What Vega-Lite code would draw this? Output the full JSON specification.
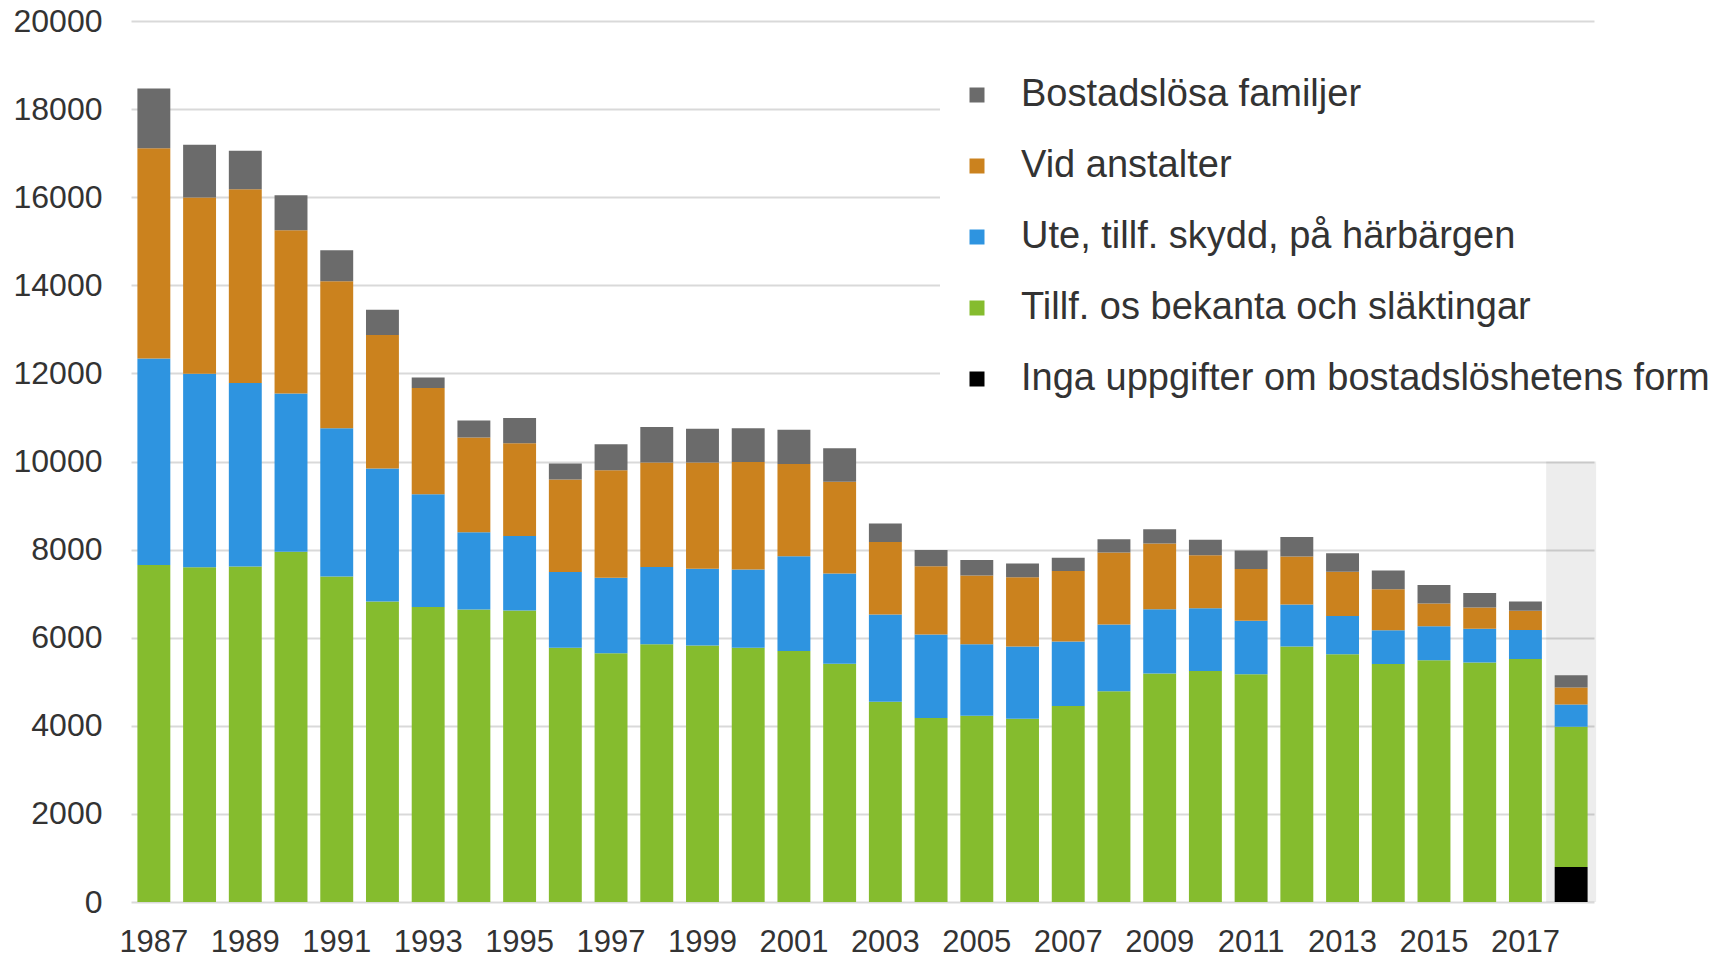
{
  "$schema": "https://vega.github.io/schema/vega-lite/v6.json",
  "width": 1463,
  "height": 881,
  "autosize": {"type": "none"},
  "padding": {"left": 131, "top": 21, "right": 141, "bottom": 56},
  "background": "white",
  "config": {
    "view": {"stroke": null},
    "font": "Liberation Sans",
    "axisX": {
      "title": null,
      "labelAngle": 0,
      "ticks": false,
      "domain": false,
      "grid": false,
      "labelFontSize": 31,
      "labelColor": "#333333",
      "labelPadding": 25
    },
    "axisY": {
      "title": null,
      "domain": false,
      "ticks": false,
      "labelFontSize": 32,
      "labelColor": "#333333",
      "labelPadding": 29,
      "gridColor": "#d9d9d9",
      "gridWidth": 2
    },
    "legend": {
      "orient": "none",
      "legendX": 809,
      "legendY": 37,
      "fillColor": "white",
      "padding": 18,
      "symbolType": "square",
      "symbolSize": 225,
      "symbolStrokeWidth": 0,
      "labelFontSize": 38,
      "labelColor": "#333333",
      "labelOffset": 25,
      "rowPadding": 33,
      "labelLimit": 1000
    }
  },
  "layer": [
    {
      "data": {"values": [{"year": 2018, "antal": 10000}]},
      "mark": {"type": "bar", "width": 50, "color": "#000000", "opacity": 0.07},
      "encoding": {
        "x": {
          "field": "year",
          "type": "ordinal",
          "scale": {"paddingInner": 0.28, "paddingOuter": 0.14},
          "axis": {
            "title": null,
            "values": [1987,1989,1991,1993,1995,1997,1999,2001,2003,2005,2007,2009,2011,2013,2015,2017]
          }
        },
        "y": {
          "field": "antal",
          "type": "quantitative",
          "scale": {"domain": [0, 20000], "nice": false},
          "axis": {
            "title": null,
            "values": [0,2000,4000,6000,8000,10000,12000,14000,16000,18000,20000],
            "format": "d"
          }
        }
      }
    },
    {
      "data": {"values": [
        {"year":1987,"kategori":"Tillf. os bekanta och släktingar","antal":7652},
        {"year":1987,"kategori":"Ute, tillf. skydd, på härbärgen","antal":4689},
        {"year":1987,"kategori":"Vid anstalter","antal":4773},
        {"year":1987,"kategori":"Bostadslösa familjer","antal":1356},
        {"year":1988,"kategori":"Tillf. os bekanta och släktingar","antal":7599},
        {"year":1988,"kategori":"Ute, tillf. skydd, på härbärgen","antal":4393},
        {"year":1988,"kategori":"Vid anstalter","antal":4000},
        {"year":1988,"kategori":"Bostadslösa familjer","antal":1197},
        {"year":1989,"kategori":"Tillf. os bekanta och släktingar","antal":7614},
        {"year":1989,"kategori":"Ute, tillf. skydd, på härbärgen","antal":4166},
        {"year":1989,"kategori":"Vid anstalter","antal":4402},
        {"year":1989,"kategori":"Bostadslösa familjer","antal":871},
        {"year":1990,"kategori":"Tillf. os bekanta och släktingar","antal":7954},
        {"year":1990,"kategori":"Ute, tillf. skydd, på härbärgen","antal":3591},
        {"year":1990,"kategori":"Vid anstalter","antal":3705},
        {"year":1990,"kategori":"Bostadslösa familjer","antal":795},
        {"year":1991,"kategori":"Tillf. os bekanta och släktingar","antal":7387},
        {"year":1991,"kategori":"Ute, tillf. skydd, på härbärgen","antal":3370},
        {"year":1991,"kategori":"Vid anstalter","antal":3334},
        {"year":1991,"kategori":"Bostadslösa familjer","antal":704},
        {"year":1992,"kategori":"Tillf. os bekanta och släktingar","antal":6820},
        {"year":1992,"kategori":"Ute, tillf. skydd, på härbärgen","antal":3021},
        {"year":1992,"kategori":"Vid anstalter","antal":3030},
        {"year":1992,"kategori":"Bostadslösa familjer","antal":576},
        {"year":1993,"kategori":"Tillf. os bekanta och släktingar","antal":6699},
        {"year":1993,"kategori":"Ute, tillf. skydd, på härbärgen","antal":2557},
        {"year":1993,"kategori":"Vid anstalter","antal":2410},
        {"year":1993,"kategori":"Bostadslösa familjer","antal":243},
        {"year":1994,"kategori":"Tillf. os bekanta och släktingar","antal":6639},
        {"year":1994,"kategori":"Ute, tillf. skydd, på härbärgen","antal":1755},
        {"year":1994,"kategori":"Vid anstalter","antal":2151},
        {"year":1994,"kategori":"Bostadslösa familjer","antal":387},
        {"year":1995,"kategori":"Tillf. os bekanta och släktingar","antal":6616},
        {"year":1995,"kategori":"Ute, tillf. skydd, på härbärgen","antal":1695},
        {"year":1995,"kategori":"Vid anstalter","antal":2105},
        {"year":1995,"kategori":"Bostadslösa familjer","antal":569},
        {"year":1996,"kategori":"Tillf. os bekanta och släktingar","antal":5770},
        {"year":1996,"kategori":"Ute, tillf. skydd, på härbärgen","antal":1720},
        {"year":1996,"kategori":"Vid anstalter","antal":2100},
        {"year":1996,"kategori":"Bostadslösa familjer","antal":365},
        {"year":1997,"kategori":"Tillf. os bekanta och släktingar","antal":5645},
        {"year":1997,"kategori":"Ute, tillf. skydd, på härbärgen","antal":1715},
        {"year":1997,"kategori":"Vid anstalter","antal":2439},
        {"year":1997,"kategori":"Bostadslösa familjer","antal":594},
        {"year":1998,"kategori":"Tillf. os bekanta och släktingar","antal":5849},
        {"year":1998,"kategori":"Ute, tillf. skydd, på härbärgen","antal":1758},
        {"year":1998,"kategori":"Vid anstalter","antal":2368},
        {"year":1998,"kategori":"Bostadslösa familjer","antal":811},
        {"year":1999,"kategori":"Tillf. os bekanta och släktingar","antal":5824},
        {"year":1999,"kategori":"Ute, tillf. skydd, på härbärgen","antal":1741},
        {"year":1999,"kategori":"Vid anstalter","antal":2410},
        {"year":1999,"kategori":"Bostadslösa familjer","antal":770},
        {"year":2000,"kategori":"Tillf. os bekanta och släktingar","antal":5774},
        {"year":2000,"kategori":"Ute, tillf. skydd, på härbärgen","antal":1774},
        {"year":2000,"kategori":"Vid anstalter","antal":2443},
        {"year":2000,"kategori":"Bostadslösa familjer","antal":762},
        {"year":2001,"kategori":"Tillf. os bekanta och släktingar","antal":5699},
        {"year":2001,"kategori":"Ute, tillf. skydd, på härbärgen","antal":2150},
        {"year":2001,"kategori":"Vid anstalter","antal":2092},
        {"year":2001,"kategori":"Bostadslösa familjer","antal":778},
        {"year":2002,"kategori":"Tillf. os bekanta och släktingar","antal":5406},
        {"year":2002,"kategori":"Ute, tillf. skydd, på härbärgen","antal":2050},
        {"year":2002,"kategori":"Vid anstalter","antal":2084},
        {"year":2002,"kategori":"Bostadslösa familjer","antal":761},
        {"year":2003,"kategori":"Tillf. os bekanta och släktingar","antal":4544},
        {"year":2003,"kategori":"Ute, tillf. skydd, på härbärgen","antal":1983},
        {"year":2003,"kategori":"Vid anstalter","antal":1648},
        {"year":2003,"kategori":"Bostadslösa familjer","antal":419},
        {"year":2004,"kategori":"Tillf. os bekanta och släktingar","antal":4176},
        {"year":2004,"kategori":"Ute, tillf. skydd, på härbärgen","antal":1899},
        {"year":2004,"kategori":"Vid anstalter","antal":1548},
        {"year":2004,"kategori":"Bostadslösa familjer","antal":368},
        {"year":2005,"kategori":"Tillf. os bekanta och släktingar","antal":4226},
        {"year":2005,"kategori":"Ute, tillf. skydd, på härbärgen","antal":1623},
        {"year":2005,"kategori":"Vid anstalter","antal":1565},
        {"year":2005,"kategori":"Bostadslösa familjer","antal":351},
        {"year":2006,"kategori":"Tillf. os bekanta och släktingar","antal":4159},
        {"year":2006,"kategori":"Ute, tillf. skydd, på härbärgen","antal":1640},
        {"year":2006,"kategori":"Vid anstalter","antal":1573},
        {"year":2006,"kategori":"Bostadslösa familjer","antal":310},
        {"year":2007,"kategori":"Tillf. os bekanta och släktingar","antal":4452},
        {"year":2007,"kategori":"Ute, tillf. skydd, på härbärgen","antal":1464},
        {"year":2007,"kategori":"Vid anstalter","antal":1598},
        {"year":2007,"kategori":"Bostadslösa familjer","antal":302},
        {"year":2008,"kategori":"Tillf. os bekanta och släktingar","antal":4786},
        {"year":2008,"kategori":"Ute, tillf. skydd, på härbärgen","antal":1515},
        {"year":2008,"kategori":"Vid anstalter","antal":1632},
        {"year":2008,"kategori":"Bostadslösa familjer","antal":301},
        {"year":2009,"kategori":"Tillf. os bekanta och släktingar","antal":5187},
        {"year":2009,"kategori":"Ute, tillf. skydd, på härbärgen","antal":1458},
        {"year":2009,"kategori":"Vid anstalter","antal":1492},
        {"year":2009,"kategori":"Bostadslösa familjer","antal":327},
        {"year":2010,"kategori":"Tillf. os bekanta och släktingar","antal":5246},
        {"year":2010,"kategori":"Ute, tillf. skydd, på härbärgen","antal":1424},
        {"year":2010,"kategori":"Vid anstalter","antal":1199},
        {"year":2010,"kategori":"Bostadslösa familjer","antal":352},
        {"year":2011,"kategori":"Tillf. os bekanta och släktingar","antal":5170},
        {"year":2011,"kategori":"Ute, tillf. skydd, på härbärgen","antal":1216},
        {"year":2011,"kategori":"Vid anstalter","antal":1173},
        {"year":2011,"kategori":"Bostadslösa familjer","antal":419},
        {"year":2012,"kategori":"Tillf. os bekanta och släktingar","antal":5799},
        {"year":2012,"kategori":"Ute, tillf. skydd, på härbärgen","antal":955},
        {"year":2012,"kategori":"Vid anstalter","antal":1090},
        {"year":2012,"kategori":"Bostadslösa familjer","antal":444},
        {"year":2013,"kategori":"Tillf. os bekanta och släktingar","antal":5623},
        {"year":2013,"kategori":"Ute, tillf. skydd, på härbärgen","antal":872},
        {"year":2013,"kategori":"Vid anstalter","antal":1005},
        {"year":2013,"kategori":"Bostadslösa familjer","antal":419},
        {"year":2014,"kategori":"Tillf. os bekanta och släktingar","antal":5405},
        {"year":2014,"kategori":"Ute, tillf. skydd, på härbärgen","antal":763},
        {"year":2014,"kategori":"Vid anstalter","antal":930},
        {"year":2014,"kategori":"Bostadslösa familjer","antal":427},
        {"year":2015,"kategori":"Tillf. os bekanta och släktingar","antal":5489},
        {"year":2015,"kategori":"Ute, tillf. skydd, på härbärgen","antal":771},
        {"year":2015,"kategori":"Vid anstalter","antal":519},
        {"year":2015,"kategori":"Bostadslösa familjer","antal":419},
        {"year":2016,"kategori":"Tillf. os bekanta och släktingar","antal":5439},
        {"year":2016,"kategori":"Ute, tillf. skydd, på härbärgen","antal":762},
        {"year":2016,"kategori":"Vid anstalter","antal":486},
        {"year":2016,"kategori":"Bostadslösa familjer","antal":327},
        {"year":2017,"kategori":"Tillf. os bekanta och släktingar","antal":5514},
        {"year":2017,"kategori":"Ute, tillf. skydd, på härbärgen","antal":662},
        {"year":2017,"kategori":"Vid anstalter","antal":436},
        {"year":2017,"kategori":"Bostadslösa familjer","antal":209},
        {"year":2018,"kategori":"Inga uppgifter om bostadslöshetens form","antal":796},
        {"year":2018,"kategori":"Tillf. os bekanta och släktingar","antal":3185},
        {"year":2018,"kategori":"Ute, tillf. skydd, på härbärgen","antal":502},
        {"year":2018,"kategori":"Vid anstalter","antal":386},
        {"year":2018,"kategori":"Bostadslösa familjer","antal":276}
      ]},
      "transform": [
        {"calculate": "indexof(['Inga uppgifter om bostadslöshetens form','Tillf. os bekanta och släktingar','Ute, tillf. skydd, på härbärgen','Vid anstalter','Bostadslösa familjer'], datum.kategori)", "as": "k"}
      ],
      "mark": {"type": "bar"},
      "encoding": {
        "x": {
          "field": "year",
          "type": "ordinal",
          "axis": {
            "title": null,
            "values": [1987,1989,1991,1993,1995,1997,1999,2001,2003,2005,2007,2009,2011,2013,2015,2017]
          }
        },
        "y": {
          "field": "antal",
          "type": "quantitative",
          "stack": "zero",
          "axis": {
            "title": null,
            "values": [0,2000,4000,6000,8000,10000,12000,14000,16000,18000,20000],
            "format": "d"
          }
        },
        "color": {
          "field": "kategori",
          "type": "nominal",
          "scale": {
            "domain": ["Bostadslösa familjer","Vid anstalter","Ute, tillf. skydd, på härbärgen","Tillf. os bekanta och släktingar","Inga uppgifter om bostadslöshetens form"],
            "range": ["#6b6b6b","#cb821e","#2e94e0","#85bc2e","#000000"]
          },
          "legend": {"title": null}
        },
        "order": {"field": "k", "type": "quantitative"}
      }
    }
  ]
}
